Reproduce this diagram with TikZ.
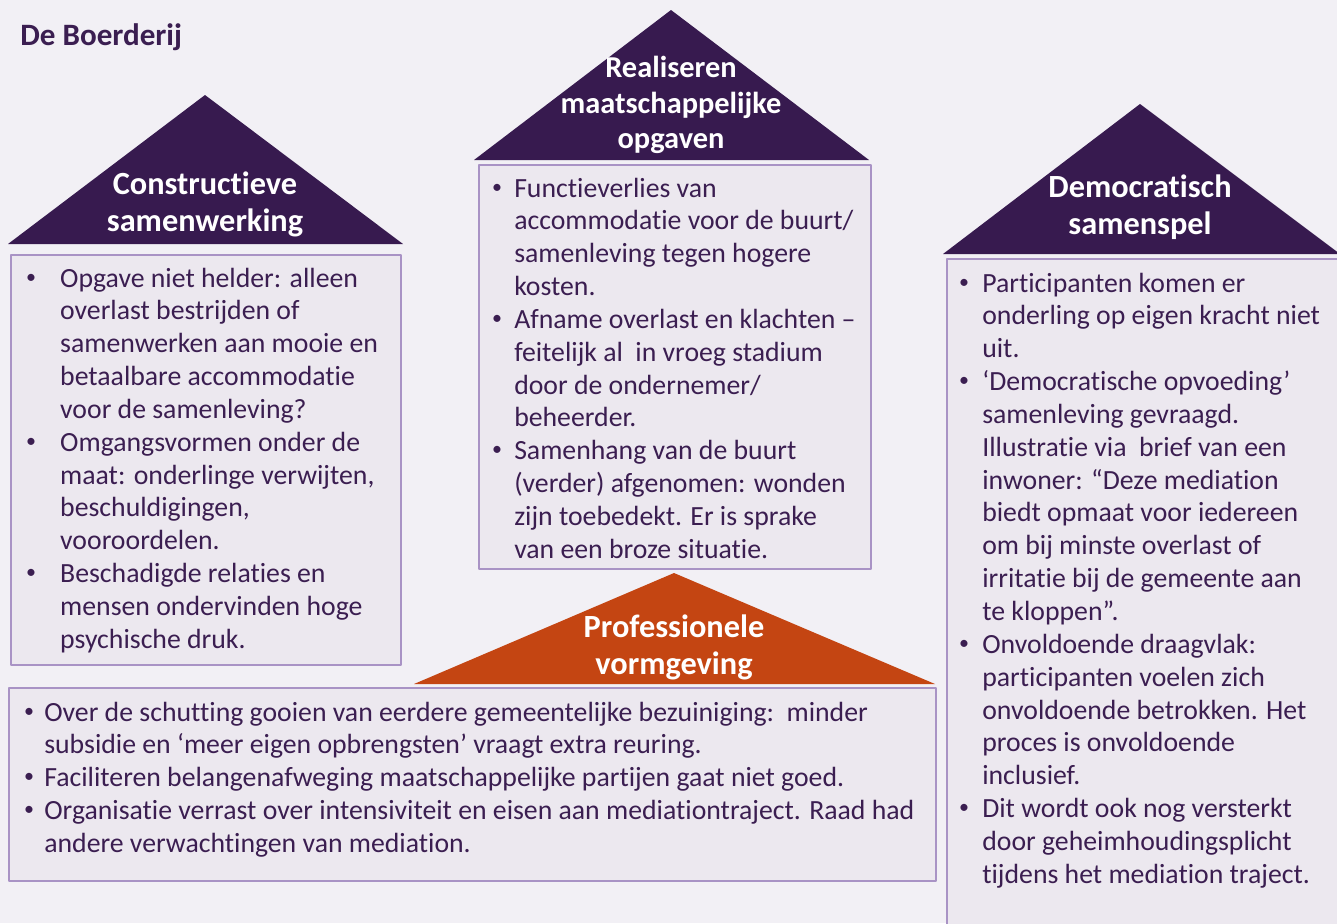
\documentclass[tikz,border=0pt]{standalone}
\usepackage{fontspec}
\setmainfont[RawFeature=-liga]{Carlito}
\usetikzlibrary{positioning}
\definecolor{pageBg}{HTML}{F2F0F5}
\definecolor{boxBg}{HTML}{ECE8EF}
\definecolor{boxLine}{HTML}{A993C5}
\definecolor{roofPurple}{HTML}{371A4F}
\definecolor{roofOrange}{HTML}{C44512}
\definecolor{bodyText}{HTML}{3B1E51}
\newcommand{\bodyfont}{\fontsize{15.8}{18.7}\selectfont}
\newcommand{\bul}[1]{\makebox[#1][l]{\hspace{1pt}\raisebox{0.3ex}{\scalebox{0.72}{•}}}}
\begin{document}
\begin{tikzpicture}[
	x=0.02cm, y=-0.02cm,
	line join=round,
	roof/.style={fill=roofPurple},
	roofText/.style={text=white, font=\fontsize{18.4}{21}\selectfont\bfseries, align=center, inner sep=0pt},
	box/.style={draw=boxLine, line width=1.2pt, fill=boxBg, inner sep=0pt, anchor=north west},
	items/.style={text=bodyText, font=\bodyfont, inner sep=0pt, anchor=base west}
	]
	\fill[pageBg] (0,0) rectangle (1337,923);
	\useasboundingbox (0,0) rectangle (1337,923);
	\node[text=bodyText, font=\fontsize{17.7}{20}\selectfont\bfseries, anchor=base west, inner sep=0pt] (title) at (20,45) {De Boerderij};
	% roofs
	\fill[roof] (8,244) -- (205,95) -- (403,244) -- cycle;
	\fill[roof] (474,160) -- (671,10) -- (869,160) -- cycle;
	\fill[roof] (943,254) -- (1140,104) -- (1340,254) -- cycle;
	\fill[roofOrange] (414,684) -- (674,573) -- (935,684) -- cycle;
	\node[roofText] (roofA) at (205,204) {Constructieve\\samenwerking};
	\node[roofText, font=\fontsize{17.3}{20}\selectfont\bfseries] (roofB) at (671,105) {Realiseren\\maatschappelijke\\opgaven};
	\node[roofText] (roofC) at (1140,207) {Democratisch\\samenspel};
	\node[roofText] (roofD) at (674,647) {Professionele\\vormgeving};
	% boxes
	\node[box, minimum width=390*0.02cm, minimum height=410*0.02cm] (boxA) at (10,254) {};
	\node[box, minimum width=392*0.02cm, minimum height=404*0.02cm] (boxB) at (478,164) {};
	\node[box, minimum width=420*0.02cm, minimum height=700*0.02cm] (boxC) at (946,258) {};
	\node[box, minimum width=927*0.02cm, minimum height=193*0.02cm] (boxD) at (8,687) {};
	% texts
	\node[items] (itemsA) at (24,287) {\begin{tabular}[t]{@{}l@{}l@{}}
		\bul{20.4pt}&Opgave niet helder: alleen\\
		&overlast bestrijden of\\
		&samenwerken aan mooie en\\
		&betaalbare accommodatie\\
		&voor de samenleving?\\
		\bul{20.4pt}&Omgangsvormen onder de\\
		&maat: onderlinge verwijten,\\
		&beschuldigingen,\\
		&vooroordelen.\\
		\bul{20.4pt}&Beschadigde relaties en\\
		&mensen ondervinden hoge\\
		&psychische druk.
	\end{tabular}};
	\node[items] (itemsB) at (490,197) {\begin{tabular}[t]{@{}l@{}l@{}}
		\bul{13.6pt}&Functieverlies van\\
		&accommodatie voor de buurt/\\
		&samenleving tegen hogere\\
		&kosten.\\
		\bul{13.6pt}&Afname overlast en klachten –\\
		&feitelijk al\ \ in vroeg stadium\\
		&door de ondernemer/\\
		&beheerder.\\
		\bul{13.6pt}&Samenhang van de buurt\\
		&(verder) afgenomen: wonden\\
		&zijn toebedekt. Er is sprake\\
		&van een broze situatie.
	\end{tabular}};
	\node[items] (itemsC) at (957,292) {\begin{tabular}[t]{@{}l@{}l@{}}
		\bul{14.2pt}&Participanten komen er\\
		&onderling op eigen kracht niet\\
		&uit.\\
		\bul{14.2pt}&‘Democratische opvoeding’\\
		&samenleving gevraagd.\\
		&Illustratie via\ \ brief van een\\
		&inwoner: “Deze mediation\\
		&biedt opmaat voor iedereen\\
		&om bij minste overlast of\\
		&irritatie bij de gemeente aan\\
		&te kloppen”.\\
		\bul{14.2pt}&Onvoldoende draagvlak:\\
		&participanten voelen zich\\
		&onvoldoende betrokken. Het\\
		&proces is onvoldoende\\
		&inclusief.\\
		\bul{14.2pt}&Dit wordt ook nog versterkt\\
		&door geheimhoudingsplicht\\
		&tijdens het mediation traject.
	\end{tabular}};
	\node[items] (itemsD) at (22,721) {\begin{tabular}[t]{@{}l@{}l@{}}
		\bul{12.5pt}&Over de schutting gooien van eerdere gemeentelijke bezuiniging:\ \ minder\\
		&subsidie en ‘meer eigen opbrengsten’ vraagt extra reuring.\\
		\bul{12.5pt}&Faciliteren belangenafweging maatschappelijke partijen gaat niet goed.\\
		\bul{12.5pt}&Organisatie verrast over intensiviteit en eisen aan mediationtraject. Raad had\\
		&andere verwachtingen van mediation.
	\end{tabular}};
\end{tikzpicture}
\end{document}
